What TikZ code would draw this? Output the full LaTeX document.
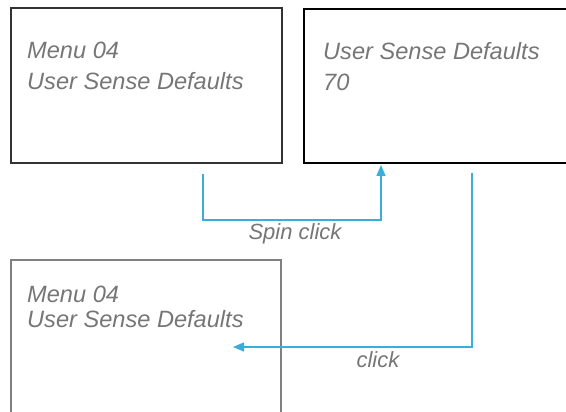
\documentclass[tikz,border=0pt]{standalone}
\usepackage{fontspec}
\setmainfont{Liberation Sans}
\usetikzlibrary{arrows.meta}
\definecolor{flowblue}{HTML}{3AAED8}
\definecolor{textgray}{HTML}{767676}

\begin{document}
\begin{tikzpicture}[x=1pt,y=-1pt,
  screen/.style={draw,anchor=north west,inner sep=0pt},
  txt/.style={anchor=base west,inner sep=0pt,text=textgray,font=\fontsize{23.6}{28}\selectfont\itshape},
  lbl/.style={anchor=base,inner sep=0pt,text=textgray,font=\fontsize{22}{26}\selectfont\itshape},
  flow/.style={draw=flowblue,line width=1.5pt,-{Triangle[length=11pt,width=9pt]}}]
\useasboundingbox (0,0) rectangle (566,412);
\clip (0,0) rectangle (566,412);

% Screens
\node[screen,draw=black!80,line width=2.4pt,minimum width=271pt,minimum height=155pt] (menu) at (10,7) {};
\node[screen,draw=black,line width=2.4pt,minimum width=300pt,minimum height=154pt] (value) at (303,8) {};
\node[screen,draw=black!50,line width=1.8pt,minimum width=270pt,minimum height=200pt] (back) at (10,259) {};

% Screen texts
\node[txt] (menuA) at (27,59) {Menu 04};
\node[txt] (menuB) at (27,90) {User Sense Defaults};
\node[txt] (valueA) at (323,60) {User Sense Defaults};
\node[txt] (valueB) at (323,91) {70};
\node[txt] (backA) at (27,302) {Menu 04};
\node[txt] (backB) at (27,327) {User Sense Defaults};

% Arrows
\coordinate (spin) at (203,174);
\coordinate (spinend) at (381,165);
\draw[flow] (spin) -- (203,220) -| (spinend);
\node[lbl] (spinlbl) at (295,240) {Spin click};

\coordinate (click) at (472,173);
\coordinate (clickend) at (233,347);
\draw[flow] (click) |- (clickend);
\node[lbl] (clicklbl) at (378,367) {click};
\end{tikzpicture}
\end{document}
